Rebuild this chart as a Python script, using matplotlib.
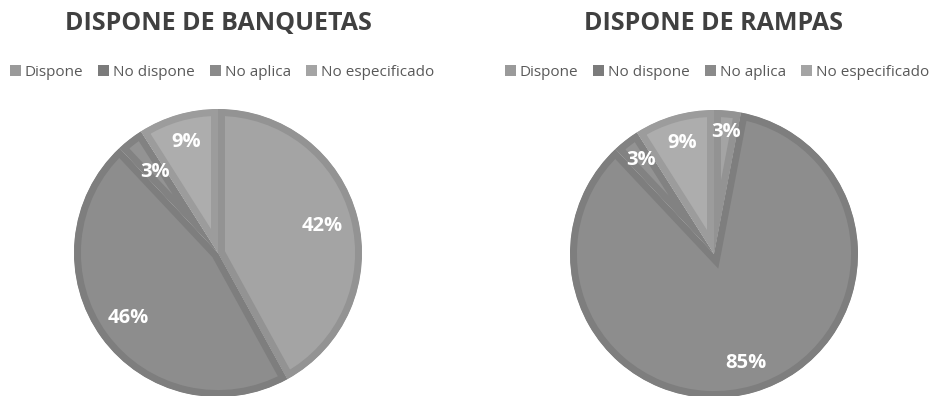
import numpy as np
import matplotlib.pyplot as plt
from matplotlib.patches import Patch

plt.rcParams['font.family'] = ['Open Sans', 'DejaVu Sans']

categories = ["Dispone", "No dispone", "No aplica", "No especificado"]
banquetas = [42, 46, 3, 9]
rampas = [3, 85, 3, 9]

# face / bevel colours per category (grey scale)
faces = ["#a4a4a4", "#8d8d8d", "#939393", "#adadad"]
edges = ["#939393", "#7e7e7e", "#828282", "#9c9c9c"]
legend_colors = ["#9a9a9a", "#7b7b7b", "#8a8a8a", "#a4a4a4"]

W, H = 930, 396
fig = plt.figure(figsize=(W / 100, H / 100), dpi=100)
fig.patch.set_facecolor("white")


def bevel_pie(cx, cy, r, values, label_dist):
    ax = fig.add_axes([(cx - r) / W, (H - cy - r) / H, 2 * r / W, 2 * r / H])
    wedges, _, autotexts = ax.pie(
        values, colors=faces, startangle=90, counterclock=False,
        autopct=lambda p: f"{p:.0f}%", pctdistance=0.78,
        textprops=dict(color="white", fontsize=14.5, fontweight="bold"))
    for w, ec in zip(wedges, edges):
        w.set_edgecolor(ec)
        w.set_linewidth(10)
        w.set_joinstyle("miter")
        # keep only the inner half of the stroke -> bevel look
        w.set_clip_on(True)
        w.set_clip_path(w)
    for w, t, d in zip(wedges, autotexts, label_dist):
        ang = np.deg2rad((w.theta1 + w.theta2) / 2)
        t.set_position((d * np.cos(ang), d * np.sin(ang)))
    ax.set_xlim(-1, 1)
    ax.set_ylim(-1, 1)
    ax.set_aspect("equal")
    ax.axis("off")
    return ax


def header(cx, title):
    fig.text(cx / W, 1 - 24 / H, title, ha="center", va="center",
             fontsize=18, fontweight="bold", color="#404040")


bevel_pie(218, 253, 144, banquetas, [0.75, 0.77, 0.71, 0.8])
bevel_pie(714, 254, 144, rampas, [0.85, 0.79, 0.83, 0.8])
header(218, "DISPONE DE BANQUETAS")
header(714, "DISPONE DE RAMPAS")

handles = [Patch(facecolor=c, edgecolor="none") for c in legend_colors]
for lx in (222, 717):
    fig.legend(handles, categories, loc="center", ncol=4,
               bbox_to_anchor=(lx / W, 1 - 72 / H), frameon=False,
               fontsize=11, labelcolor="#595959",
               handlelength=0.72, handleheight=0.72, handletextpad=0.25,
               columnspacing=1.0, borderpad=0)

fig.savefig("out.png", dpi=100)
